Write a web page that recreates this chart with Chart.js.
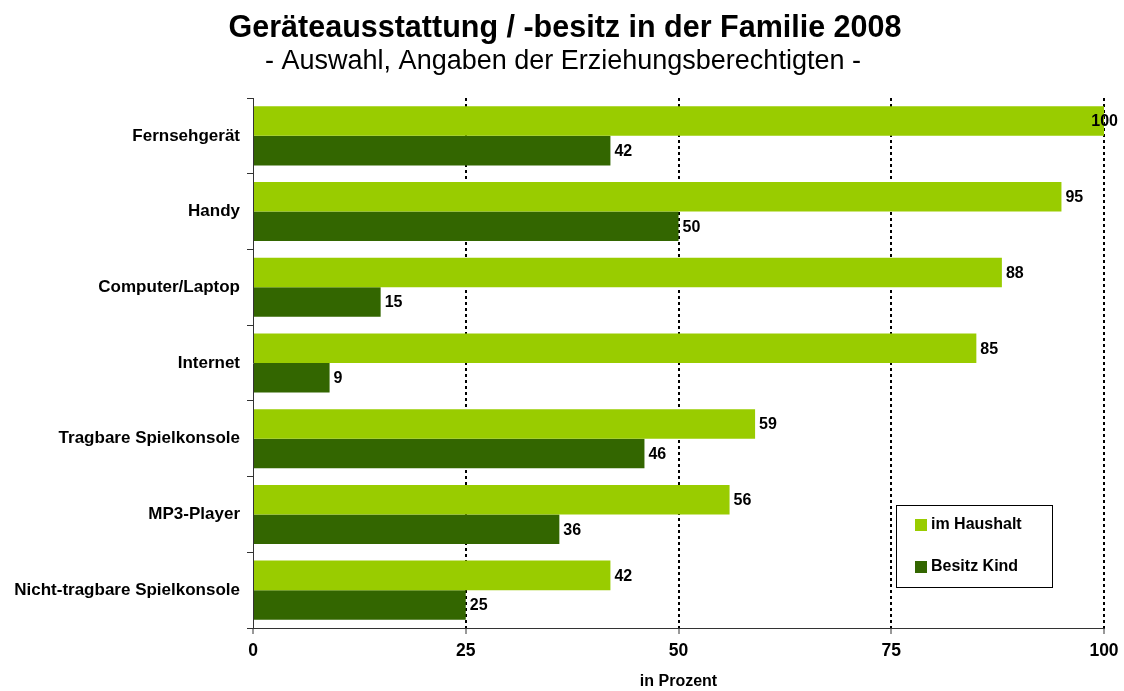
<!DOCTYPE html>
<html>
<head>
<meta charset="utf-8">
<script src="https://cdn.jsdelivr.net/npm/chart.js@4.4.1/dist/chart.umd.min.js"></script>
<style>
  html, body { margin: 0; padding: 0; background: #fff; }
  #wrap { width: 1124px; height: 691px; }
</style>
</head>
<body>
<div id="wrap"><canvas id="chart"></canvas></div>
<script>
// --- 데이터 ---
const categories = [
    "Fernsehgerät", "Handy", "Computer/Laptop", "Internet",
    "Tragbare Spielkonsole", "MP3-Player", "Nicht-tragbare Spielkonsole"
];
const imHaushalt = [100, 95, 88, 85, 59, 56, 42];
const besitzKind = [42, 50, 15, 9, 46, 36, 25];
const xTicks = [0, 25, 50, 75, 100];

const TITLE = 'Geräteausstattung / -besitz in der Familie 2008';
const SUBTITLE = '- Auswahl, Angaben der Erziehungsberechtigten -';

const FONT = 'Arial, "Liberation Sans", sans-serif';

// 제목 / 부제목 (가운데가 캔버스 중앙보다 약간 오른쪽)
const headerText = {
    id: 'headerText',
    afterDraw(chart) {
        const ctx = chart.ctx;
        ctx.save();
        ctx.fillStyle = '#000';
        ctx.textAlign = 'center';
        ctx.textBaseline = 'alphabetic';
        ctx.font = 'bold 30.5px ' + FONT;
        ctx.fillText(TITLE, 565, 37);
        ctx.font = '27px ' + FONT;
        ctx.fillText(SUBTITLE, 563, 69);
        ctx.restore();
    }
};

// 막대 끝 값 표시
const valueLabels = {
    id: 'valueLabels',
    afterDatasetsDraw(chart) {
        const ctx = chart.ctx;
        ctx.save();
        ctx.font = 'bold 16px ' + FONT;
        ctx.fillStyle = '#000';
        ctx.textAlign = 'left';
        ctx.textBaseline = 'middle';
        chart.data.datasets.forEach((ds, i) => {
            chart.getDatasetMeta(i).data.forEach((bar, j) => {
                const txt = String(ds.data[j]);
                const w = ctx.measureText(txt).width;
                const x = Math.min(bar.x + 4, chart.width - w - 6); // 오른쪽 밖으로 나가지 않게
                ctx.fillText(txt, x, bar.y + 1);
            });
        });
        ctx.restore();
    }
};

// 차트 안쪽 범례 박스
const boxLegend = {
    id: 'boxLegend',
    afterDraw(chart) {
        const ctx = chart.ctx;
        const a = chart.chartArea;
        const w = 156, h = 82;
        const x = a.right - 52 - w;
        const y = a.bottom - 41 - h;
        ctx.save();
        ctx.fillStyle = '#fff';
        ctx.fillRect(x, y, w, h);
        ctx.strokeStyle = '#000';
        ctx.lineWidth = 1;
        ctx.strokeRect(x + 0.5, y + 0.5, w, h);
        ctx.font = 'bold 16px ' + FONT;
        ctx.textBaseline = 'middle';
        chart.data.datasets.forEach((ds, i) => {
            const cy = y + 20 + i * 42;
            ctx.fillStyle = ds.backgroundColor;
            ctx.fillRect(x + 19, cy - 6, 12, 12);
            ctx.fillStyle = '#000';
            ctx.fillText(ds.label, x + 35, cy);
        });
        ctx.restore();
    }
};

new Chart(document.getElementById('chart'), {
    type: 'bar',
    data: {
        labels: categories,
        datasets: [
            { label: 'im Haushalt', data: imHaushalt, backgroundColor: '#99CC00' },
            { label: 'Besitz Kind', data: besitzKind, backgroundColor: '#336600' }
        ]
    },
    options: {
        indexAxis: 'y',
        responsive: true,
        maintainAspectRatio: false,
        animation: false,
        categoryPercentage: 0.78,
        barPercentage: 1,
        layout: { padding: { left: 0, right: 20, top: 98, bottom: 0 } },
        plugins: {
            legend: { display: false },
            tooltip: { enabled: false },
            title: { display: false }
        },
        scales: {
            x: {
                min: 0,
                max: 100,
                afterBuildTicks: scale => { scale.ticks = xTicks.map(v => ({ value: v })); },
                afterFit: scale => {
                    scale.height = 63;
                    scale.paddingLeft = 0;
                    scale.paddingRight = 0;
                },
                ticks: {
                    color: '#000',
                    font: { family: FONT, size: 17.5, weight: 'bold' },
                    padding: 7
                },
                grid: {
                    color: c => (c.tick && c.tick.value === 0) ? 'rgba(0,0,0,0)' : '#000',
                    lineWidth: 2,
                    tickColor: '#333',
                    tickBorderDash: [],
                    tickWidth: 1,
                    tickLength: 6
                },
                border: { display: true, color: '#333', width: 1, dash: [3, 3] },
                title: {
                    display: true,
                    text: 'in Prozent',
                    color: '#000',
                    font: { family: FONT, size: 16, weight: 'bold' },
                    padding: { top: 10, bottom: 0 }
                }
            },
            y: {
                afterFit: scale => { scale.width = 253; },
                ticks: {
                    color: '#000',
                    font: { family: FONT, size: 17, weight: 'bold' },
                    padding: 7
                },
                grid: {
                    offset: true,
                    drawOnChartArea: false,
                    color: '#333',
                    tickLength: 6
                },
                border: { display: true, color: '#333', width: 1 }
            }
        }
    },
    plugins: [headerText, valueLabels, boxLegend]
});
</script>
</body>
</html>
